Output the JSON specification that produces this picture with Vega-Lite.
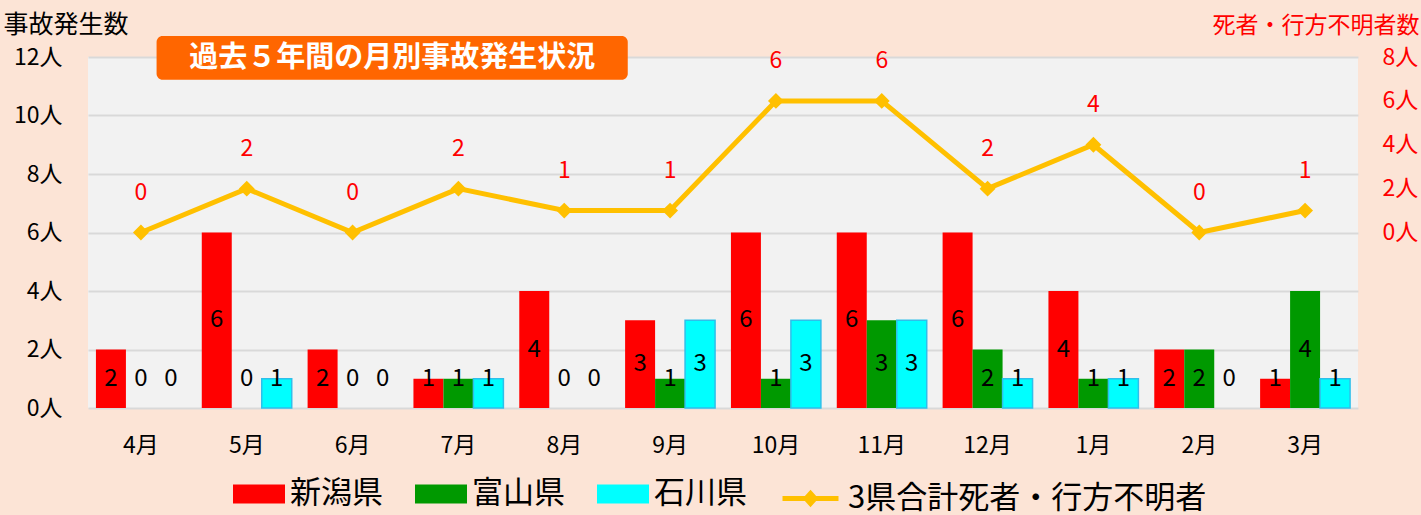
{
  "$schema": "https://vega.github.io/schema/vega-lite/v6.json",
  "width": 1270,
  "height": 351,
  "autosize": "none",
  "padding": {"left": 88, "top": 57, "right": 63, "bottom": 107},
  "background": "#FCE4D6",
  "config": {
    "view": {"fill": "#F2F2F2", "stroke": null},
    "font": "Noto Sans CJK JP",
    "axis": {"labelFont": "Noto Sans CJK JP", "titleFont": "Noto Sans CJK JP"},
    "legend": {"labelFont": "Noto Sans CJK JP"}
  },
  "datasets": {
    "bars": [
      {"month": "4月", "pref": "新潟県", "v": 2}, {"month": "4月", "pref": "富山県", "v": 0}, {"month": "4月", "pref": "石川県", "v": 0},
      {"month": "5月", "pref": "新潟県", "v": 6}, {"month": "5月", "pref": "富山県", "v": 0}, {"month": "5月", "pref": "石川県", "v": 1},
      {"month": "6月", "pref": "新潟県", "v": 2}, {"month": "6月", "pref": "富山県", "v": 0}, {"month": "6月", "pref": "石川県", "v": 0},
      {"month": "7月", "pref": "新潟県", "v": 1}, {"month": "7月", "pref": "富山県", "v": 1}, {"month": "7月", "pref": "石川県", "v": 1},
      {"month": "8月", "pref": "新潟県", "v": 4}, {"month": "8月", "pref": "富山県", "v": 0}, {"month": "8月", "pref": "石川県", "v": 0},
      {"month": "9月", "pref": "新潟県", "v": 3}, {"month": "9月", "pref": "富山県", "v": 1}, {"month": "9月", "pref": "石川県", "v": 3},
      {"month": "10月", "pref": "新潟県", "v": 6}, {"month": "10月", "pref": "富山県", "v": 1}, {"month": "10月", "pref": "石川県", "v": 3},
      {"month": "11月", "pref": "新潟県", "v": 6}, {"month": "11月", "pref": "富山県", "v": 3}, {"month": "11月", "pref": "石川県", "v": 3},
      {"month": "12月", "pref": "新潟県", "v": 6}, {"month": "12月", "pref": "富山県", "v": 2}, {"month": "12月", "pref": "石川県", "v": 1},
      {"month": "1月", "pref": "新潟県", "v": 4}, {"month": "1月", "pref": "富山県", "v": 1}, {"month": "1月", "pref": "石川県", "v": 1},
      {"month": "2月", "pref": "新潟県", "v": 2}, {"month": "2月", "pref": "富山県", "v": 2}, {"month": "2月", "pref": "石川県", "v": 0},
      {"month": "3月", "pref": "新潟県", "v": 1}, {"month": "3月", "pref": "富山県", "v": 4}, {"month": "3月", "pref": "石川県", "v": 1}
    ],
    "line": [
      {"month": "4月", "d": 0}, {"month": "5月", "d": 2}, {"month": "6月", "d": 0}, {"month": "7月", "d": 2},
      {"month": "8月", "d": 1}, {"month": "9月", "d": 1}, {"month": "10月", "d": 6}, {"month": "11月", "d": 6},
      {"month": "12月", "d": 2}, {"month": "1月", "d": 4}, {"month": "2月", "d": 0}, {"month": "3月", "d": 1}
    ]
  },
  "layer": [
    {
      "data": {"name": "bars"},
      "layer": [
        {
          "mark": {"type": "bar", "strokeWidth": 1.5},
          "encoding": {
            "x": {
              "field": "month", "type": "nominal",
              "sort": ["4月","5月","6月","7月","8月","9月","10月","11月","12月","1月","2月","3月"],
              "scale": {"paddingInner": 0.15, "paddingOuter": 0.075},
              "axis": {"title": null, "domain": false, "ticks": false, "labelAngle": 0, "labelPadding": 26, "labelFontSize": 23, "labelColor": "#000000", "grid": false}
            },
            "xOffset": {"field": "pref", "type": "nominal", "sort": ["新潟県","富山県","石川県"], "scale": {"paddingInner": 0, "paddingOuter": 0}},
            "y": {
              "field": "v", "type": "quantitative",
              "scale": {"domain": [0, 12], "nice": false},
              "axis": {
                "values": [0, 2, 4, 6, 8, 10, 12],
                "labelExpr": "datum.label + '人'",
                "title": "事故発生数", "titleAngle": 0, "titleAlign": "left", "titleBaseline": "middle",
                "titleX": -85, "titleY": -33, "titleFontSize": 25, "titleFontWeight": "normal", "titleColor": "#000000",
                "domain": false, "ticks": false, "labelPadding": 26, "labelFontSize": 23, "labelColor": "#000000",
                "grid": true, "gridColor": "#D9D9D9", "gridWidth": 2
              }
            },
            "color": {
              "field": "pref", "type": "nominal",
              "scale": {
                "domain": ["新潟県", "富山県", "石川県"],
                "range": ["#FF0000", "#009900", "#00FFFF"]
              },
              "legend": {
                "orient": "none", "legendX": 145, "legendY": 411, "direction": "horizontal",
                "title": null, "labelFontSize": 31, "labelColor": "#000000", "labelLimit": 800,
                "symbolSize": 2704, "columnPadding": 32, "labelOffset": 5,
                "symbolType": "M-1,-0.37H1V0.37H-1Z",
                "symbolStrokeWidth": 0
              }
            },
            "stroke": {"condition": {"test": "datum.pref === '石川県' && datum.v > 0", "value": "#2EBFEA"}, "value": "transparent"}
          }
        },
        {
          "mark": {"type": "text", "fontSize": 24, "baseline": "middle", "align": "center", "color": "#000000"},
          "encoding": {
            "x": {"field": "month", "type": "nominal", "sort": ["4月","5月","6月","7月","8月","9月","10月","11月","12月","1月","2月","3月"]},
            "xOffset": {"field": "pref", "type": "nominal", "sort": ["新潟県","富山県","石川県"]},
            "y": {"field": "v", "type": "quantitative", "scale": {"domain": [2, 24], "range": [321.75, 0], "clamp": true, "nice": false, "zero": false}, "axis": null},
            "text": {"field": "v", "type": "quantitative"}
          }
        }
      ],
      "resolve": {"scale": {"y": "independent"}}
    },
    {
      "data": {"name": "line"},
      "layer": [
        {
          "mark": {"type": "line", "strokeWidth": 5, "point": {"shape": "diamond", "size": 170, "filled": true, "color": "#FFC000"}},
          "encoding": {
            "x": {
              "field": "month", "type": "nominal",
              "sort": ["4月","5月","6月","7月","8月","9月","10月","11月","12月","1月","2月","3月"],
              "scale": {"type": "band", "paddingInner": 0.15, "paddingOuter": 0.075},
              "axis": null
            },
            "y": {
              "field": "d", "type": "quantitative",
              "scale": {"domain": [-8, 8], "nice": false, "zero": false},
              "axis": {
                "orient": "right", "values": [0, 2, 4, 6, 8],
                "labelExpr": "datum.label + '人'",
                "title": "死者・行方不明者数", "titleAngle": 0, "titleAlign": "right", "titleBaseline": "middle",
                "titleX": 61, "titleY": -32, "titleFontSize": 23, "titleFontWeight": "normal", "titleColor": "#FF0000",
                "domain": false, "ticks": false, "grid": false, "labelPadding": 24, "labelFontSize": 23, "labelColor": "#FF0000"
              }
            },
            "stroke": {
              "datum": "3県合計死者・行方不明者", "type": "nominal",
              "scale": {"domain": ["3県合計死者・行方不明者"], "range": ["#FFC000"]},
              "legend": {
                "orient": "none", "legendX": 692, "legendY": 411, "direction": "horizontal",
                "title": null, "labelFontSize": 31, "labelColor": "#000000", "labelLimit": 800,
                "symbolSize": 3136, "labelOffset": 7,
                "symbolType": "M-1,0H1M0,-0.18L0.16,0L0,0.18L-0.16,0Z",
                "symbolStrokeWidth": 5,
                "symbolStrokeColor": "#FFC000",
                "symbolFillColor": "#FFC000"
              }
            }
          }
        },
        {
          "mark": {"type": "text", "fontSize": 23, "dy": -40, "color": "#FF0000", "baseline": "middle"},
          "encoding": {
            "x": {"field": "month", "type": "nominal", "sort": ["4月","5月","6月","7月","8月","9月","10月","11月","12月","1月","2月","3月"]},
            "y": {"field": "d", "type": "quantitative"},
            "text": {"field": "d", "type": "quantitative"}
          }
        }
      ]
    },
    {
      "data": {"values": [{}]},
      "layer": [
        {
          "mark": {"type": "rect", "fill": "#FF6600", "cornerRadius": 6},
          "encoding": {
            "x": {"datum": 0.054, "type": "quantitative", "scale": {"domain": [0, 1], "nice": false}, "axis": null},
            "x2": {"datum": 0.425},
            "y": {"datum": 1.06, "type": "quantitative", "scale": {"domain": [0, 1], "nice": false}, "axis": null},
            "y2": {"datum": 0.935}
          }
        },
        {
          "mark": {"type": "text", "text": "過去５年間の月別事故発生状況", "color": "#FFFFFF", "fontSize": 29, "fontWeight": "bold", "baseline": "middle", "align": "center"},
          "encoding": {
            "x": {"datum": 0.2395, "type": "quantitative"},
            "y": {"datum": 0.997, "type": "quantitative"}
          }
        }
      ]
    }
  ],
  "resolve": {"scale": {"x": "independent", "y": "independent"}}
}
